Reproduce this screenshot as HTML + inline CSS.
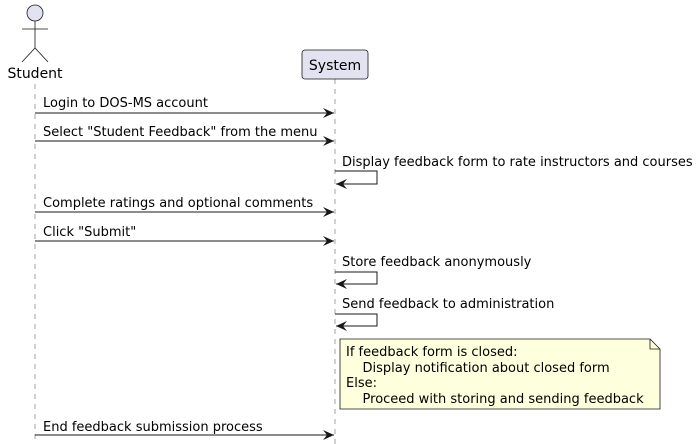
<!DOCTYPE html>
<html><head><meta charset="utf-8"><style>body{margin:0;background:#fff}svg{display:block}text{font-family:"DejaVu Sans","Liberation Sans",sans-serif;font-size:13px;fill:#000}</style></head>
<body>
<svg width="698" height="444" viewBox="0 0 698 444" xmlns="http://www.w3.org/2000/svg">
<defs><marker id="a" markerWidth="12" markerHeight="10" refX="11" refY="5" orient="auto" markerUnits="userSpaceOnUse"><path d="M0,0 L11,5 L0,10 L4,5 Z" fill="#181818"/></marker></defs>
<g stroke="#666" stroke-width="0.6" stroke-dasharray="5,5" fill="none">
<line x1="35" y1="84" x2="35" y2="444"/>
<line x1="335" y1="79" x2="335" y2="444"/>
</g>
<g stroke="#181818" stroke-width="0.8" fill="none">
<circle cx="35" cy="13" r="8" fill="#E2E2F0"/>
<line x1="35" y1="21" x2="35" y2="48"/>
<line x1="22" y1="29" x2="48" y2="29"/>
<polyline points="22,62 35,48 48,62"/>
</g>
<text x="35" y="78" text-anchor="middle" style="font-size:14px">Student</text>
<rect x="302" y="50" width="66" height="29" rx="3" fill="#E2E2F0" stroke="#181818" stroke-width="0.8"/>
<text x="335" y="70" text-anchor="middle" style="font-size:14px">System</text>
<g stroke="#181818" stroke-width="1" fill="none">
<line x1="35" y1="113" x2="334" y2="113" marker-end="url(#a)"/>
<line x1="35" y1="141" x2="334" y2="141" marker-end="url(#a)"/>
<polyline points="335,171 377,171 377,184 336,184" marker-end="url(#a)"/>
<line x1="35" y1="212" x2="334" y2="212" marker-end="url(#a)"/>
<line x1="35" y1="241" x2="334" y2="241" marker-end="url(#a)"/>
<polyline points="335,272 377,272 377,284 336,284" marker-end="url(#a)"/>
<polyline points="335,314 377,314 377,326 336,326" marker-end="url(#a)"/>
<line x1="35" y1="435" x2="334" y2="435" marker-end="url(#a)"/>
</g>
<text x="43" y="107">Login to DOS-MS account</text>
<text x="43" y="136">Select "Student Feedback" from the menu</text>
<text x="342" y="166">Display feedback form to rate instructors and courses</text>
<text x="43" y="207">Complete ratings and optional comments</text>
<text x="43" y="236">Click "Submit"</text>
<text x="342" y="266">Store feedback anonymously</text>
<text x="342" y="308">Send feedback to administration</text>
<path d="M340,339 L650,339 L660,349 L660,409 L340,409 Z" fill="#FEFFDD" stroke="#181818" stroke-width="0.8"/>
<path d="M650,339 L650,349 L660,349" fill="none" stroke="#181818" stroke-width="0.8"/>
<text x="346" y="356">If feedback form is closed:</text>
<text x="346" y="372" xml:space="preserve">    Display notification about closed form</text>
<text x="346" y="387">Else:</text>
<text x="346" y="403" xml:space="preserve">    Proceed with storing and sending feedback</text>
<text x="43" y="431">End feedback submission process</text>
</svg>
</body></html>
